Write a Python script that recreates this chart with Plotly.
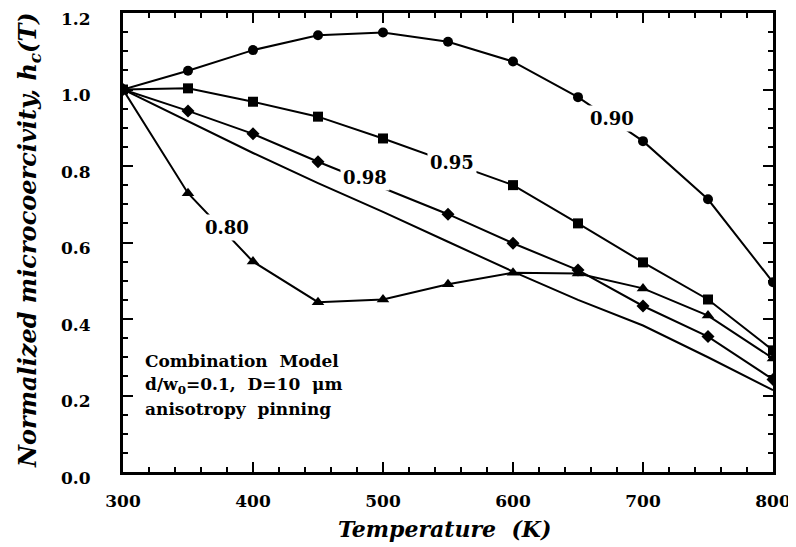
import plotly.graph_objects as go

# ---- data ----
temps = [300, 350, 400, 450, 500, 550, 600, 650, 700, 750, 800]

t_090 = temps
h_090 = [1.0, 1.049, 1.103, 1.142, 1.149, 1.125, 1.073, 0.980, 0.865, 0.713, 0.496]

t_095 = [300, 350, 400, 450, 500, 600, 650, 700, 750, 800]
h_095 = [1.0, 1.003, 0.968, 0.929, 0.872, 0.750, 0.650, 0.548, 0.451, 0.318]

t_098 = [300, 350, 400, 450, 550, 600, 650, 700, 750, 800]
h_098 = [1.0, 0.944, 0.884, 0.811, 0.674, 0.598, 0.528, 0.434, 0.354, 0.242]

t_080 = temps
h_080 = [1.0, 0.729, 0.550, 0.444, 0.451, 0.491, 0.521, 0.519, 0.480, 0.409, 0.297]

t_plain = temps
h_plain = [1.0, 0.918, 0.834, 0.755, 0.680, 0.602, 0.524, 0.450, 0.383, 0.300, 0.214]

curve_labels = ["0.90", "0.95", "0.98", "0.80"]
label_x = [676, 553, 486, 380]
label_y = [0.925, 0.808, 0.769, 0.638]

note_lines = ["Combination  Model", "d/w<sub>0</sub>=0.1,  D=10  μm", "anisotropy  pinning"]
note_y = [0.290, 0.227, 0.165]

x_title = "Temperature  (K)"
y_title = "Normalized microcoercivity, h<sub>c</sub>(T)"

FONT = "DejaVu Serif"

fig = go.Figure()

line_style = dict(color="black", width=2)
fig.add_trace(go.Scatter(x=t_plain, y=h_plain, mode="lines", line=line_style))
fig.add_trace(go.Scatter(x=t_090, y=h_090, mode="lines+markers", line=line_style,
                         marker=dict(symbol="circle", size=10, color="black")))
fig.add_trace(go.Scatter(x=t_095, y=h_095, mode="lines+markers", line=line_style,
                         marker=dict(symbol="square", size=10, color="black")))
fig.add_trace(go.Scatter(x=t_098, y=h_098, mode="lines+markers", line=line_style,
                         marker=dict(symbol="diamond", size=10, color="black")))
fig.add_trace(go.Scatter(x=t_080, y=h_080, mode="lines+markers", line=line_style,
                         marker=dict(symbol="triangle-up", size=11, color="black")))

for txt, lx, ly in zip(curve_labels, label_x, label_y):
    fig.add_annotation(x=lx, y=ly, text=txt, showarrow=False,
                       font=dict(family=FONT, size=18, color="black", weight="bold"),
                       bgcolor="white", borderpad=2)

for txt, ny in zip(note_lines, note_y):
    fig.add_annotation(x=315, y=ny, xanchor="left", yanchor="middle", showarrow=False,
                       text=txt, font=dict(family=FONT, size=17, color="black", weight="bold"))

fig.add_annotation(x=0.495, y=-0.124, xref="paper", yref="paper", showarrow=False,
                   xanchor="center", yanchor="middle",
                   text="<i>" + x_title + "</i>",
                   font=dict(family=FONT, size=22, color="black", weight="bold"))
fig.add_annotation(x=-0.145, y=0.505, xref="paper", yref="paper", showarrow=False,
                   xanchor="center", yanchor="middle",
                   textangle=-90, text="<i>" + y_title + "</i>",
                   font=dict(family=FONT, size=24, color="black", weight="bold"))

axis_common = dict(showline=True, linewidth=3, linecolor="black", mirror="ticks",
                   ticks="inside", ticklen=10, tickwidth=2, tickcolor="black",
                   showgrid=False, zeroline=False, automargin=False,
                   ticklabeloverflow="allow",
                   tickfont=dict(family=FONT, size=17, color="black", weight="bold"))

fig.update_xaxes(range=[300, 800], dtick=100, tick0=300, ticklabelstandoff=12,
                 minor=dict(dtick=20, ticks="inside", ticklen=5, tickwidth=2, tickcolor="black"),
                 **axis_common)
fig.update_yaxes(range=[0, 1.2], dtick=0.2, tick0=0, tickformat=".1f",
                 ticklabelstandoff=26, ticklabelshift=6,
                 minor=dict(dtick=0.05, ticks="inside", ticklen=5, tickwidth=2, tickcolor="black"),
                 **axis_common)

# page body adds an 8px margin, so the figure is sized to fit the 796x547 window
fig.update_layout(width=788, height=539, margin=dict(l=115, r=23, t=5, b=75),
                  plot_bgcolor="white", paper_bgcolor="white", showlegend=False)

fig.write_html("out.html")
